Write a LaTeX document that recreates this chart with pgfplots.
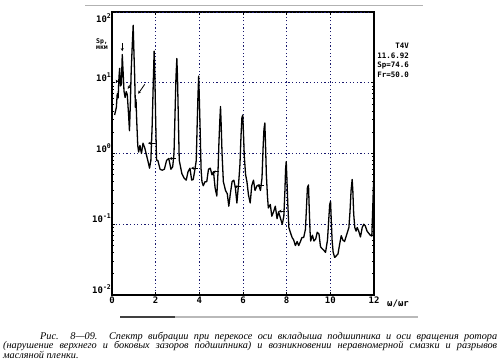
\documentclass[border=0pt]{standalone}
\usepackage{pgfplots}
\pgfplotsset{compat=1.18}
\usetikzlibrary{arrows.meta}
\usepackage{fontspec}
\setmainfont{Liberation Serif}
\newfontfamily\mono{DejaVu Sans Mono}
\definecolor{gridc}{RGB}{25,25,110}
\newcommand\ex[1]{10\raisebox{0.45em}{\fontsize{6.5}{6.5}\selectfont#1}}
\begin{document}
\begin{tikzpicture}
\path[use as bounding box] (0,0) rectangle (502bp,362bp);
\draw[gray!60, line width=1bp] (85bp,356bp) -- (423bp,356bp);
\draw[gray!55, line width=1.2bp] (120bp,45bp) -- (418bp,45bp);
\draw[black!75, line width=1.2bp] (120bp,45bp) -- (175bp,45bp);
\begin{axis}[
  at={(112bp,67bp)}, anchor=south west,
  scale only axis, width=262bp, height=283bp,
  xmin=0, xmax=12, ymode=log, ymin=0.01, ymax=100,
  xtick={0,2,4,6,8,10,12},
  xticklabels={0,2,4,6,8,10,12},
  ytick={0.01,0.1,1,10},
  yticklabels={\ex{-2},\ex{-1},\ex{0},\ex{1}},
  extra y ticks={100},
  extra y tick labels={\ex{2}},
  extra y tick style={yticklabel style={anchor=north east}},
  xmajorgrids=true, ymajorgrids=true,
  major x grid style={gridc, line width=0.9bp, dash pattern=on 1.2bp off 2.4bp},
  major y grid style={gridc, line width=0.9bp, dash pattern=on 1.2bp off 2.4bp},
  tick align=inside, tick pos=both,
  major tick length=3bp, minor tick length=2bp,
  tick style={black, line width=0.7bp},
  axis line style={black, line width=1.2bp},
  xticklabel style={font=\mono\bfseries\fontsize{9}{9}\selectfont, inner sep=1bp, yshift=-0.5bp},
  yticklabel style={font=\mono\bfseries\fontsize{9}{9}\selectfont, anchor=south east, inner sep=1bp},
  clip=false,
]
\addplot[black, line width=1.3bp, line join=round] coordinates {
(0.12,3.5) (0.2,4.5) (0.24,7) (0.28,6.1) (0.32,12) (0.35,16) (0.39,9) (0.43,9.5)
(0.47,25) (0.51,14) (0.55,7.6) (0.6,6.2) (0.65,7.5) (0.7,6.8) (0.76,3.5)
(0.8,2.1) (0.84,5) (0.88,15) (0.93,35) (0.97,65) (1.0,30) (1.04,12) (1.07,4.5)
(1.1,5.8) (1.13,3) (1.18,1.3) (1.22,1.05) (1.28,1.3) (1.35,1.0) (1.42,1.4) (1.5,1.2)
(1.58,0.95) (1.66,0.75) (1.72,0.62) (1.78,0.8) (1.84,2.5) (1.89,10) (1.93,28)
(1.96,14) (2.0,3) (2.04,0.8) (2.1,0.8)
(2.2,0.6) (2.3,0.58) (2.4,0.6) (2.5,0.8) (2.6,0.85) (2.7,0.6) (2.78,0.65)
(2.84,1.0) (2.89,4) (2.93,12) (2.97,22) (3.0,12) (3.04,3) (3.08,0.8) (3.2,0.52) (3.3,0.45)
(3.4,0.42) (3.48,0.55) (3.57,0.62) (3.65,0.42) (3.72,0.43) (3.8,0.6) (3.86,0.8)
(3.9,2.5) (3.94,7) (3.97,12.4) (4.0,6) (4.04,2) (4.08,0.6) (4.12,0.4) (4.18,0.35) (4.26,0.4) (4.34,0.4)
(4.42,0.6) (4.5,0.62) (4.58,0.5) (4.65,0.55) (4.72,0.33) (4.8,0.25) (4.85,0.5)
(4.9,1.5) (4.94,3) (4.97,4.6) (5.0,2.6) (5.04,1.0) (5.1,0.4) (5.2,0.3) (5.28,0.27) (5.35,0.18) (5.42,0.27)
(5.5,0.4) (5.58,0.42) (5.65,0.33) (5.72,0.2) (5.8,0.38) (5.86,0.7) (5.91,1.8)
(5.95,3.2) (5.99,3.5) (6.02,2) (6.06,0.9) (6.12,0.5) (6.18,0.4) (6.25,0.26) (6.33,0.2) (6.4,0.35) (6.48,0.42) (6.55,0.3)
(6.64,0.35) (6.72,0.36) (6.8,0.3) (6.87,0.45) (6.92,1.2) (6.96,2.2) (7.0,2.7)
(7.03,1.4) (7.07,0.5) (7.12,0.25)
(7.16,0.17) (7.25,0.19) (7.32,0.13) (7.4,0.15) (7.48,0.18) (7.56,0.12)
(7.63,0.15) (7.72,0.12) (7.8,0.1) (7.87,0.13) (7.92,0.3) (7.95,0.6) (7.98,0.77)
(8.01,0.45) (8.05,0.2) (8.1,0.09) (8.18,0.075) (8.25,0.065) (8.32,0.06) (8.4,0.05) (8.48,0.057)
(8.55,0.05) (8.63,0.057) (8.7,0.065) (8.78,0.065) (8.86,0.085) (8.91,0.18) (8.95,0.33)
(9.0,0.36) (9.03,0.18) (9.07,0.08) (9.1,0.058) (9.18,0.07) (9.25,0.058) (9.33,0.062)
(9.4,0.077) (9.48,0.073) (9.55,0.048) (9.63,0.045) (9.7,0.043) (9.78,0.04)
(9.87,0.06) (9.93,0.12) (9.97,0.19) (10.01,0.21) (10.04,0.12) (10.08,0.06) (10.13,0.04) (10.2,0.034) (10.28,0.036)
(10.35,0.038) (10.43,0.053) (10.5,0.069) (10.57,0.06) (10.65,0.057) (10.74,0.07)
(10.85,0.09) (10.9,0.15) (10.95,0.3) (11.0,0.43) (11.03,0.3) (11.07,0.14) (11.12,0.09) (11.18,0.08)
(11.23,0.09) (11.3,0.08) (11.38,0.066) (11.46,0.09) (11.53,0.1) (11.6,0.095)
(11.68,0.08) (11.83,0.07) (11.9,0.068) (11.95,0.2) (11.98,0.4) (12.0,0.03)
};
\begin{scope}[black, line width=0.8bp, -{Stealth[length=3bp,width=3bp]}]
\draw (axis cs:0.47,36) -- (axis cs:0.47,28);
\draw (axis cs:0.18,10.5) -- (axis cs:0.3,10.5);
\draw (axis cs:0.85,9.5) -- (axis cs:0.72,8.2);
\draw (axis cs:1.5,9.5) -- (axis cs:1.2,7.0);
\draw (axis cs:1.96,1.4) -- (axis cs:1.65,1.4);
\draw (axis cs:2.93,0.85) -- (axis cs:2.62,0.85);
\draw (axis cs:3.92,0.62) -- (axis cs:3.62,0.62);
\draw (axis cs:4.92,0.55) -- (axis cs:4.61,0.55);
\draw (axis cs:5.92,0.34) -- (axis cs:5.61,0.34);
\draw (axis cs:6.94,0.35) -- (axis cs:6.64,0.35);
\draw (axis cs:7.94,0.153) -- (axis cs:7.63,0.153);
\end{scope}
\end{axis}
\node[font=\mono\bfseries\fontsize{9}{9}\selectfont, anchor=center] at (398bp,58bp) {ω/ωr};
\node[font=\mono\bfseries\fontsize{6.5}{7}\selectfont, align=center, inner sep=0] at (102bp,318bp) {Sp,\\[-1.5bp]мкм};
\node[font=\mono\bfseries\fontsize{7.5}{9.7}\selectfont, align=right, anchor=north east, inner sep=0] at (409bp,319bp) {T4V\\11.6.92\\Sp=74.6\\Fr=50.0};
\node[anchor=north west, inner sep=0, text width=494bp, align=justify,
      font=\itshape\fontsize{10.3}{9.5}\selectfont] at (3bp,30.5bp)
{\baselineskip=9.5bp\lineskiplimit=-20bp\hspace*{37bp}Рис. 8—09. Спектр вибрации при перекосе оси вкладыша подшипника и оси вращения ротора\linebreak (нарушение верхнего и боковых зазоров подшипника) и возникновении неравномерной смазки и разрывов\linebreak масляной пленки.\par};
\end{tikzpicture}
\end{document}
